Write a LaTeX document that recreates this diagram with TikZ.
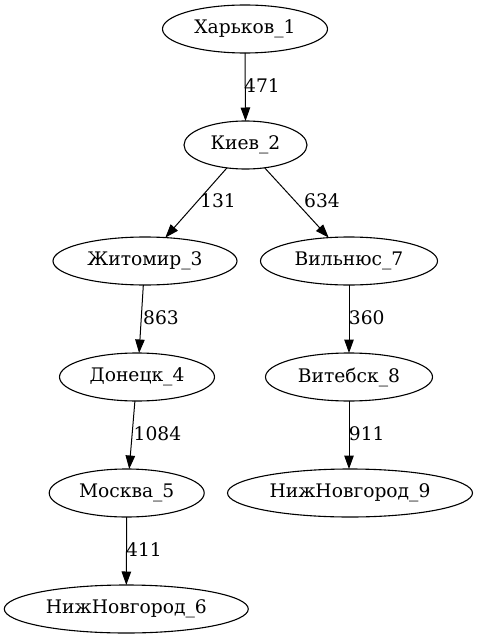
\documentclass[tikz,border=0pt]{standalone}
\usepackage{fontspec}
\setmainfont{DejaVu Serif}
\usetikzlibrary{shapes.geometric,arrows.meta}
\begin{document}
\begin{tikzpicture}[x=1pt,y=-1pt,
  city/.style={draw,ellipse,inner sep=0pt,outer sep=0pt,line width=1.1pt,minimum height=48pt,font=\fontsize{18.67}{22}\selectfont},
  edge/.style={draw,-{Triangle[length=13.5pt,width=9.5pt]},line width=1pt},
  lbl/.style={font=\fontsize{18.67}{22}\selectfont,inner sep=0pt}]
\useasboundingbox (0,0) rectangle (476,639);
\node[city,minimum width=165pt] (n1) at (245,29) {Харьков\_1};
\node[city,minimum width=123pt] (n2) at (245.5,145) {Киев\_2};
\node[city,minimum width=184pt] (n3) at (145,261) {Житомир\_3};
\node[city,minimum width=177pt] (n7) at (349,261) {Вильнюс\_7};
\node[city,minimum width=155pt] (n4) at (137,377) {Донецк\_4};
\node[city,minimum width=167pt] (n8) at (349,377) {Витебск\_8};
\node[city,minimum width=155pt] (n5) at (126.7,493) {Москва\_5};
\node[city,minimum width=245pt] (n9) at (350,493) {НижНовгород\_9};
\node[city,minimum width=244pt] (n6) at (126.3,609) {НижНовгород\_6};
\draw[edge] (n1.south) -- (n2.north);
\draw[edge] (n2.231) -- (n3.49);
\draw[edge] (n2.310) -- (n7.131);
\draw[edge] (n3.266) -- (n4.85);
\draw[edge] (n7.south) -- (n8.north);
\draw[edge] (n4.265) -- (n5.84);
\draw[edge] (n8.south) -- (n8.south |- n9.north);
\draw[edge] (n5.south) -- (n6.north);
\node[lbl] (l1) at (262,86) {471};
\node[lbl] (l2) at (218,201) {131};
\node[lbl] (l3) at (322,201) {634};
\node[lbl] (l4) at (161,317.5) {863};
\node[lbl] (l5) at (366.7,317.5) {360};
\node[lbl] (l6) at (157.5,434) {1084};
\node[lbl] (l7) at (366.7,434) {911};
\node[lbl] (l8) at (144,549.5) {411};
\end{tikzpicture}
\end{document}
